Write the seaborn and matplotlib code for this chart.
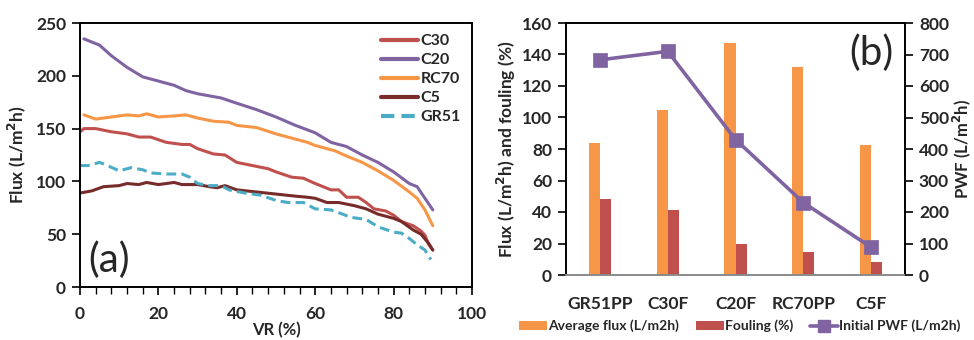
import numpy as np
import pandas as pd
import matplotlib
matplotlib.use("Agg")
import matplotlib.pyplot as plt
from matplotlib.ticker import MultipleLocator
from matplotlib.lines import Line2D
from matplotlib.patches import Patch
import seaborn as sns

# ---------------- data: panel (a) ----------------
vr_c20 = [1, 5, 8, 12, 16, 20, 24, 27, 30, 36, 40, 45, 50, 55, 60, 64, 68, 72, 76, 80, 84, 86, 88, 90]
flux_c20 = [235, 229, 219, 208, 199, 195, 191, 186, 183, 179, 174, 168, 161, 153, 146, 137, 133, 125, 118, 109, 98, 95, 84, 73]

vr_rc70 = [1, 4, 8, 12, 15, 17, 20, 24, 27, 30, 34, 38, 40, 45, 50, 55, 58, 60, 65, 68, 72, 76, 80, 84, 86, 88, 90]
flux_rc70 = [163, 159, 161, 163, 162, 164, 161, 162, 163, 160, 157, 156, 153, 151, 145, 140, 137, 134, 129, 124, 118, 110, 101, 90, 84, 73, 58]

vr_c30 = [0, 1, 4, 8, 12, 15, 18, 22, 26, 28, 30, 34, 37, 40, 44, 48, 50, 54, 57, 60, 64, 66, 68, 71, 73, 75, 78, 80, 82, 85, 87, 88, 89, 90]
flux_c30 = [147, 150, 150, 147, 145, 142, 142, 137, 135, 135, 131, 126, 125, 118, 115, 112, 109, 104, 103, 98, 92, 92, 85, 85, 80, 74, 72, 68, 62, 58, 53, 49, 40, 35]

vr_c5 = [0, 3, 6, 10, 12, 15, 17, 20, 24, 26, 30, 33, 35, 37, 40, 45, 50, 55, 58, 60, 63, 66, 70, 73, 76, 80, 82, 85, 87, 89, 90]
flux_c5 = [89, 91, 95, 96, 98, 97, 99, 97, 99, 97, 97, 95, 94, 96, 92, 90, 88, 86, 85, 84, 80, 80, 77, 74, 69, 65, 62, 54, 50, 41, 35]

vr_gr51 = [0, 2, 5, 7, 10, 13, 16, 18, 22, 26, 28, 30, 33, 36, 38, 42, 46, 50, 53, 57, 60, 64, 67, 69, 73, 76, 80, 82, 84, 86, 88, 89.5]
flux_gr51 = [115, 115, 118, 115, 110, 113, 111, 108, 107, 107, 104, 98, 96, 96, 92, 89, 87, 82, 80, 80, 74, 73, 69, 66, 64, 57, 52, 51, 46, 40, 35, 26]

# ---------------- data: panel (b) ----------------
categories = ["GR51PP", "C30F", "C20F", "RC70PP", "C5F"]
avg_flux = [84, 105, 147, 132, 82.5]
fouling = [48.5, 41, 20, 14.5, 8]
pwf = [683, 710, 430, 230, 88]

# ---------------- style ----------------
sns.set_theme(style="ticks")
plt.rcParams["font.family"] = ["Lato", "DejaVu Sans"]
plt.rcParams["font.weight"] = "bold"
plt.rcParams["axes.labelweight"] = "bold"

c_c30 = "#C0504D"
c_c20 = "#8064A2"
c_rc70 = "#F79646"
c_c5 = "#772C2A"
c_gr51 = "#4BACC6"

fig = plt.figure(figsize=(9.74, 3.4), dpi=100)

# ---------------- panel (a) ----------------
ax1 = fig.add_axes([80 / 974, 53 / 340, 392 / 974, 264 / 340])
lw = 2.2
series = [
    ("C30", vr_c30, flux_c30, c_c30, "-"),
    ("C20", vr_c20, flux_c20, c_c20, "-"),
    ("RC70", vr_rc70, flux_rc70, c_rc70, "-"),
    ("C5", vr_c5, flux_c5, c_c5, "-"),
    ("GR51", vr_gr51, flux_gr51, c_gr51, (0, (3.2, 1.7))),
]
for name, xs, ys, col, ls in series:
    sns.lineplot(x=xs, y=ys, ax=ax1, color=col, linewidth=lw, linestyle=ls, label=name)

ax1.set_xlim(0, 100)
ax1.set_ylim(0, 250)
ax1.xaxis.set_major_locator(MultipleLocator(20))
ax1.xaxis.set_minor_locator(MultipleLocator(4))
ax1.yaxis.set_major_locator(MultipleLocator(50))
ax1.tick_params(axis="both", which="major", direction="out", length=6, width=1.2,
                labelsize=12.5, pad=4, color="black")
ax1.tick_params(axis="x", which="minor", direction="out", length=5, width=1, color="black")
ax1.tick_params(axis="x", which="major", pad=8)
for lab in ax1.get_xticklabels() + ax1.get_yticklabels():
    lab.set_fontweight("bold")
for sp in ax1.spines.values():
    sp.set_visible(True)
    sp.set_color("black")
    sp.set_linewidth(1.4)
ax1.set_xlabel("VR (%)", fontsize=12, fontweight="bold", labelpad=0)
ax1.set_ylabel("Flux (L/m$^{\\mathbf{2}}$h)", fontsize=12.5, fontweight="bold", labelpad=6)
ax1.text(0.02, 0.1, "(a)", transform=ax1.transAxes, fontsize=29, fontweight="normal",
         ha="left", va="center")
leg1 = ax1.legend(loc="upper right", frameon=False, fontsize=11.5, handlelength=2.3,
                  handletextpad=0.15, labelspacing=0.3, borderaxespad=0.3,
                  bbox_to_anchor=(1.0, 1.0))
for t in leg1.get_texts():
    t.set_fontweight("bold")
for h in leg1.get_lines():
    h.set_linewidth(3)

# ---------------- panel (b) ----------------
ax2 = fig.add_axes([566 / 974, 65 / 340, 339 / 974, 252 / 340])
df_bar = pd.DataFrame({
    "cat": categories * 2,
    "value": avg_flux + fouling,
    "metric": ["Average flux (L/m2h)"] * 5 + ["Fouling (%)"] * 5,
})
sns.barplot(data=df_bar, x="cat", y="value", hue="metric", ax=ax2,
            palette=[c_rc70, c_c30], width=0.33, saturation=1, legend=False,
            edgecolor="none")
ax2.set_xlim(-0.5, 4.5)
ax2.set_ylim(0, 160)
ax2.yaxis.set_major_locator(MultipleLocator(20))
ax2.set_xlabel("")
ax2.set_ylabel("Flux (L/m$^{\\mathbf{2}}$h) and fouling (%)", fontsize=12.5,
               fontweight="bold", labelpad=3)
ax2.tick_params(axis="y", direction="out", length=6, width=1.2, labelsize=12.5, pad=4,
                color="black")
ax2.tick_params(axis="x", length=0, labelsize=12.5, pad=15)
for lab in ax2.get_xticklabels() + ax2.get_yticklabels():
    lab.set_fontweight("bold")
for sp in ax2.spines.values():
    sp.set_visible(True)
    sp.set_color("black")
    sp.set_linewidth(1.4)
ax2.spines["bottom"].set_color("#8a8a8a")

ax3 = ax2.twinx()
df_pwf = pd.DataFrame({"cat": categories, "pwf": pwf})
sns.pointplot(data=df_pwf, x="cat", y="pwf", ax=ax3, color=c_c20, markers="s",
              linewidth=2.6, markersize=8)
ax3.set_xlim(-0.5, 4.5)
ax3.set_ylim(0, 800)
ax3.yaxis.set_major_locator(MultipleLocator(100))
ax3.set_ylabel("PWF (L/m$^{\\mathbf{2}}$h)", fontsize=12, fontweight="bold", labelpad=1)
ax3.tick_params(axis="y", direction="out", length=6, width=1.2, labelsize=12.5, pad=4,
                color="black")
for lab in ax3.get_yticklabels():
    lab.set_fontweight("bold")
for sp in ax3.spines.values():
    sp.set_visible(False)
ax3.text(0.965, 0.88, "(b)", transform=ax3.transAxes, fontsize=29, fontweight="normal",
         ha="right", va="center")

handles = [
    Patch(facecolor=c_rc70, edgecolor="none", label="Average flux (L/m2h)"),
    Patch(facecolor=c_c30, edgecolor="none", label="Fouling (%)"),
    Line2D([0], [0], color=c_c20, lw=2.6, marker="s", markersize=8,
           label="Initial PWF (L/m2h)"),
]
leg2 = fig.legend(handles=handles, loc="center", bbox_to_anchor=(740 / 974, 1 - 326 / 340),
                  ncol=3, frameon=False, fontsize=10, handlelength=2.0, handleheight=0.6,
                  handletextpad=0.1, columnspacing=1.2)
for t in leg2.get_texts():
    t.set_fontweight("bold")

fig.savefig("out.png", dpi=100)
